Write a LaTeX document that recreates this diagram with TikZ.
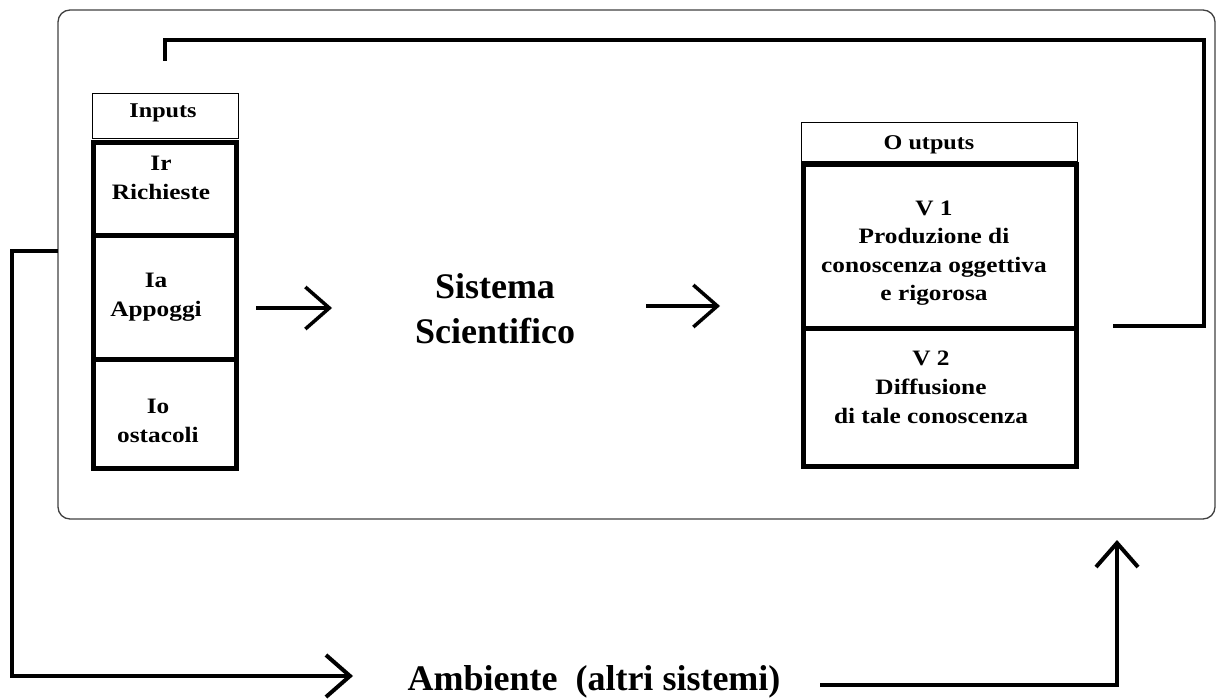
\documentclass[tikz,border=0pt]{standalone}
\usepackage{fontspec}
\setmainfont{Liberation Serif}
\newfontfamily\cellfont[FakeStretch=1.15]{Liberation Serif}
\usetikzlibrary{arrows.meta}
\begin{document}
\begin{tikzpicture}[x=1pt,y=-1pt,
  outerbox/.style={draw=black!75, line width=1.3pt, rounded corners=12pt, inner sep=0pt},
  headbox/.style={draw, line width=1pt, inner sep=0pt},
  cellbox/.style={draw, line width=5pt, inner sep=0pt},
  headtext/.style={font=\cellfont\bfseries\fontsize{21}{24}\selectfont, inner sep=0pt},
  celltext/.style={font=\cellfont\bfseries\fontsize{22}{29}\selectfont, align=center, inner sep=0pt, anchor=north},
  bigtext/.style={font=\bfseries\fontsize{36}{45}\selectfont, align=center, inner sep=0pt},
  flow/.style={line width=3.5pt},
  envflow/.style={line width=4pt},
  arr/.style={-{Straight Barb[length=24pt,width=42pt]}}
]
\useasboundingbox (0,0) rectangle (1218,700);

% outer system boundary
\node[outerbox, minimum width=1157pt, minimum height=509pt] (sys) at (636.5,264.5) {};

% inputs
\node[headbox, minimum width=146.5pt, minimum height=45pt] (inhead) at (165.25,116.5) {};
\node[headtext, anchor=base] (intxt) at (163,118) {Inputs};
\node[cellbox, minimum width=143pt, minimum height=93pt] (ir) at (165,189) {};
\node[cellbox, minimum width=143pt, minimum height=124pt] (ia) at (165,297.5) {};
\node[cellbox, minimum width=143pt, minimum height=108.5pt] (io) at (165,413.75) {};
\node[celltext] (irt) at (161,155.4) {Ir\\Richieste};
\node[celltext] (iat) at (156,272.4) {Ia\\Appoggi};
\node[celltext] (iot) at (158,398.4) {Io\\ostacoli};

% central system
\node[bigtext, anchor=north] (sci) at (495,273) {Sistema\\Scientifico};

% outputs
\node[headbox, minimum width=276pt, minimum height=39pt] (outhead) at (939.7,142.2) {};
\node[headtext, anchor=base] (outtxt) at (929,150) {O utputs};
\node[cellbox, minimum width=272.3pt, minimum height=164pt] (v1) at (940,247) {};
\node[cellbox, minimum width=272.3pt, minimum height=137pt] (v2) at (940,397.5) {};
\node[celltext, font=\cellfont\bfseries\fontsize{22}{28.5}\selectfont] (v1t) at (934,200.4) {V 1\\Produzione di\\conoscenza oggettiva\\e rigorosa};
\node[celltext, font=\cellfont\bfseries\fontsize{22}{29}\selectfont] (v2t) at (931,350.4) {V 2\\Diffusione\\di tale conoscenza};

% environment
\node[bigtext, anchor=base] (amb) at (594,690) {Ambiente\ \ (altri sistemi)};

% arrows inside the system
\coordinate (a1s) at (256,308);
\coordinate (a1e) at (332,308);
\coordinate (a2s) at (646,306);
\coordinate (a2e) at (720,306);
\draw[flow, arr] (a1s) -- (a1e);
\draw[flow, arr] (a2s) -- (a2e);

% feedback loop
\coordinate (outstart) at (1113,326);
\coordinate (fbR) at (1204,40);
\coordinate (fbend) at (165,61);
\draw[flow] (outstart) -| (fbR) -| (fbend);

% environment loop
\coordinate (inL) at (58,251);
\coordinate (envL) at (12,676);
\coordinate (ambin) at (353,676);
\coordinate (ambout) at (820,685);
\coordinate (envR) at (1117,540);
\draw[envflow, arr] (inL) -| (envL) -- (ambin);
\draw[envflow, arr] (ambout) -| (envR);
\end{tikzpicture}
\end{document}
